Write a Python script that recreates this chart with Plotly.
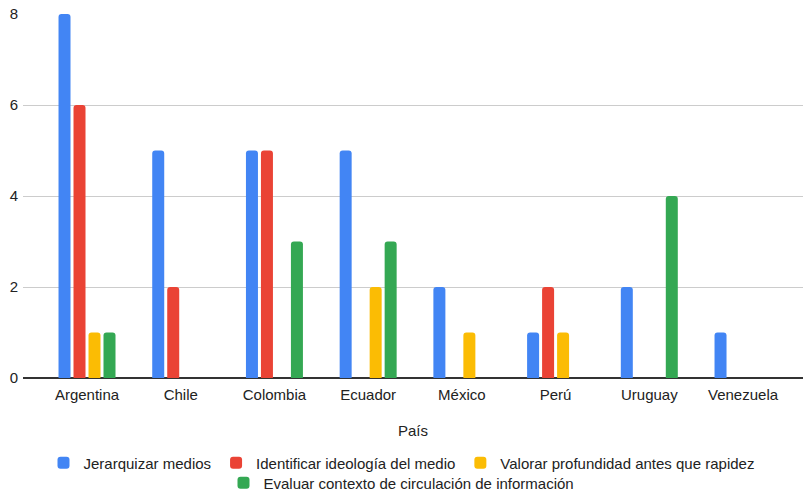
import plotly.graph_objects as go

paises = ["Argentina", "Chile", "Colombia", "Ecuador", "México", "Perú", "Uruguay", "Venezuela"]
jerarquizar = [8, 5, 5, 5, 2, 1, 2, 1]
identificar = [6, 2, 5, 0, 0, 2, 0, 0]
valorar = [1, 0, 0, 2, 1, 1, 0, 0]
evaluar = [1, 0, 3, 3, 0, 0, 4, 0]

series = [
    ("Jerarquizar medios", jerarquizar, "#4285F4", "legend"),
    ("Identificar ideología del medio", identificar, "#EA4335", "legend"),
    ("Valorar profundidad antes que rapidez", valorar, "#FBBC04", "legend"),
    ("Evaluar contexto de circulación de información", evaluar, "#34A853", "legend2"),
]

fig = go.Figure()
for name, vals, color, lg in series:
    fig.add_trace(go.Bar(
        x=paises, y=[v if v else None for v in vals], name=name,
        marker=dict(color=color, line=dict(width=0)),
        legend=lg,
    ))

font = "Arial, 'Liberation Sans', sans-serif"
fs = 15
legend_common = dict(
    orientation="h", xref="container", yref="container", x=0.5, xanchor="center",
    yanchor="middle", font=dict(family=font, size=fs, color="#222222"),
    bgcolor="rgba(0,0,0,0)", itemclick=False,
)
fig.update_layout(
    width=803, height=493,
    margin=dict(l=23, r=0, t=14, b=115),
    paper_bgcolor="white", plot_bgcolor="white",
    barmode="group", bargap=0.36, bargroupgap=0.2, barcornerradius=3,
    font=dict(family=font, size=fs, color="#222222"),
    xaxis=dict(
        type="category", range=[-0.683, 7.64], showgrid=False, zeroline=False,
        showline=False, ticks="", tickfont=dict(size=fs, color="#222222"),
        ticklabelstandoff=6,
        title=dict(text="País", font=dict(size=fs, color="#222222"), standoff=23),
        fixedrange=True,
    ),
    yaxis=dict(
        range=[0, 8], tickvals=[0, 2, 4, 6, 8], showgrid=True, gridcolor="#cccccc",
        gridwidth=1, zeroline=True, zerolinecolor="#333333", zerolinewidth=1.5,
        showline=False, ticks="", tickfont=dict(size=fs, color="#222222"),
        ticklabelstandoff=4, fixedrange=True,
    ),
    legend=dict(y=30/493, **legend_common),
    legend2=dict(y=10/493, **legend_common),
    showlegend=True,
)

fig.write_html("out.html")
